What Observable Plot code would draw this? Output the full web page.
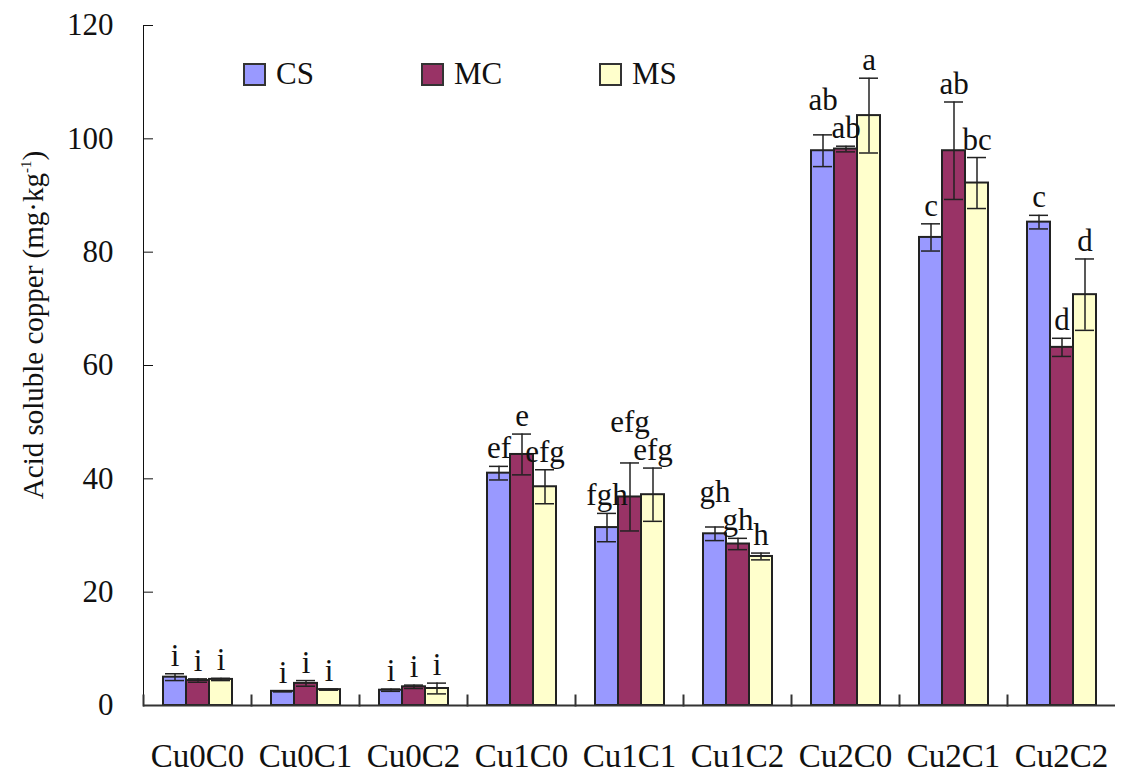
<!DOCTYPE html>
<html>
<head>
<meta charset="utf-8">
<script src="https://cdn.jsdelivr.net/npm/d3@7"></script>
<script src="https://cdn.jsdelivr.net/npm/@observablehq/plot@0.6"></script>
<style>
  html, body { margin: 0; padding: 0; background: #fff; }
  #wrap { position: relative; width: 1124px; height: 778px; font-family: "Liberation Serif", "Times New Roman", serif; color: #111; }
  #ylabel { position: absolute; left: 33px; top: 325px; transform: translate(-50%, -50%) rotate(-90deg); white-space: nowrap; font-size: 29px; }
  #ylabel sup { font-size: 15px; vertical-align: 12px; line-height: 0; }
  #legend { position: absolute; left: 243px; top: 56px; display: flex; }
  .item { display: flex; align-items: center; width: 178px; font-size: 31px; }
  .sw { width: 19px; height: 19px; border: 2px solid #333; margin-right: 10px; }
</style>
</head>
<body>
<div id="wrap">
  <div id="chart"></div>
  <div id="ylabel">Acid soluble copper (mg·kg<sup>-1</sup>)</div>
  <div id="legend"></div>
</div>
<script>
const categories = ["Cu0C0", "Cu0C1", "Cu0C2", "Cu1C0", "Cu1C1", "Cu1C2", "Cu2C0", "Cu2C1", "Cu2C2"];
const seriesNames = ["CS", "MC", "MS"];
const seriesColors = ["#9999ff", "#993366", "#ffffcc"];

const csMean = [5.0, 2.5, 2.7, 41.0, 31.4, 30.3, 97.9, 82.6, 85.3];
const csErr  = [0.6, 0.1, 0.2, 1.2, 2.5, 1.2, 2.8, 2.4, 1.2];
const csLetters = ["i", "i", "i", "ef", "fgh", "gh", "ab", "c", "c"];

const mcMean = [4.4, 3.9, 3.3, 44.3, 36.8, 28.5, 98.2, 97.9, 63.2];
const mcErr  = [0.3, 0.5, 0.3, 3.6, 6.0, 1.0, 0.5, 8.6, 1.6];
const mcLetters = ["i", "i", "i", "e", "efg", "gh", "ab", "ab", "d"];

const msMean = [4.6, 2.8, 3.0, 38.6, 37.2, 26.3, 104.1, 92.2, 72.5];
const msErr  = [0.2, 0.1, 0.95, 3.0, 4.7, 0.6, 6.6, 4.5, 6.3];
const msLetters = ["i", "i", "i", "efg", "efg", "h", "a", "bc", "d"];

const yTicks = [0, 20, 40, 60, 80, 100, 120];

const means = [csMean, mcMean, msMean];
const errs = [csErr, mcErr, msErr];
const letters = [csLetters, mcLetters, msLetters];

// layout constants (pixels) used to keep neighbouring letter labels apart
const plotHeight = 778 - 25 - 73;
const pxPerUnit = plotHeight / 120;
const letterSize = 31;
const barStep = 24;

const rows = [];
categories.forEach((c, i) => {
  const group = seriesNames.map((s, j) => ({
    cat: c, series: s, mean: means[j][i],
    lo: means[j][i] - errs[j][i], hi: means[j][i] + errs[j][i],
    letter: letters[j][i]
  }));
  group.forEach(r => r.labelY = r.hi);
  // resolve overlaps between adjacent labels, right to left: raise the higher one
  for (let j = group.length - 2; j >= 0; j--) {
    const a = group[j], b = group[j + 1];
    const halfSum = (a.letter.length + b.letter.length) * 0.5 * letterSize / 2;
    if (halfSum <= barStep + 4) continue;
    const minGap = 28 / pxPerUnit;
    if (Math.abs(a.labelY - b.labelY) < minGap) {
      if (a.labelY >= b.labelY) a.labelY = b.labelY + minGap;
      else b.labelY = a.labelY + minGap;
    }
  }
  rows.push(...group);
});

const ink = "#333";
const chart = Plot.plot({
  width: 1124,
  height: 778,
  marginLeft: 139,
  marginRight: 5,
  marginTop: 25,
  marginBottom: 73,
  style: {fontFamily: "'Liberation Serif', 'Times New Roman', serif", fontSize: "31px", color: "#111", background: "#fff"},
  fx: {domain: categories, padding: 0, label: null},
  x: {domain: seriesNames, paddingInner: 0, paddingOuter: 0.77, axis: null},
  y: {domain: [0, 120], ticks: yTicks, tickSize: -10, tickPadding: 40, label: null, line: true},
  color: {domain: seriesNames, range: seriesColors},
  marks: [
    Plot.axisFx({anchor: "bottom", tickSize: 0, tickPadding: 38, fontSize: 33, label: null}),
    Plot.barY(rows, {fx: "cat", x: "series", y: "mean", fill: "series", stroke: "#222", strokeWidth: 2}),
    Plot.ruleX(rows, {fx: "cat", x: "series", y1: "lo", y2: "hi", stroke: "#222", strokeWidth: 1.5}),
    Plot.tickY(rows, {fx: "cat", x: "series", y: "lo", stroke: "#222", strokeWidth: 1.5, inset: 2}),
    Plot.tickY(rows, {fx: "cat", x: "series", y: "hi", stroke: "#222", strokeWidth: 1.5, inset: 2}),
    Plot.text(rows, {fx: "cat", x: "series", y: "labelY", text: "letter", lineAnchor: "bottom", dy: -8, fontSize: letterSize, fill: "#111"}),
    Plot.frame({anchor: "left", insetTop: 670, stroke: ink, strokeWidth: 2}),
    Plot.ruleY([0], {stroke: ink, strokeWidth: 2})
  ]
});
document.getElementById("chart").appendChild(chart);

const legend = document.getElementById("legend");
seriesNames.forEach((s, j) => {
  const item = document.createElement("div");
  item.className = "item";
  const sw = document.createElement("div");
  sw.className = "sw";
  sw.style.background = seriesColors[j];
  item.appendChild(sw);
  item.appendChild(document.createTextNode(s));
  legend.appendChild(item);
});
</script>
</body>
</html>
